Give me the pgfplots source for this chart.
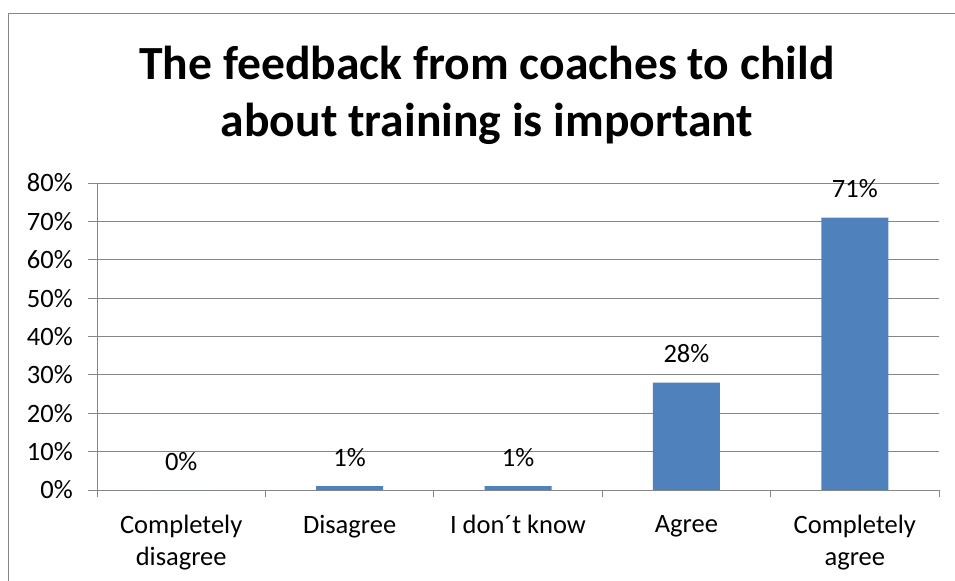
\documentclass[border=0pt]{standalone}
\usepackage{pgfplots}
\pgfplotsset{compat=1.18}
\usepackage{fontspec}
\setmainfont{Carlito}
\definecolor{barblue}{HTML}{4F81BD}
\definecolor{gridgray}{HTML}{868686}
\begin{document}
\begin{tikzpicture}[x=1bp,y=1bp]
\useasboundingbox (0,0) rectangle (955,-581);
\draw[gridgray, line width=1.3bp] (8.5,-590) -- (8.5,-13.5) -- (965,-13.5);
\node[anchor=base, inner sep=0pt, font=\fontsize{47.6bp}{57bp}\selectfont\bfseries] at (487,-80) {The feedback from coaches to child};
\node[anchor=base, inner sep=0pt, font=\fontsize{47.6bp}{57bp}\selectfont\bfseries] at (487,-137) {about training is important};
\begin{axis}[
  at={(97bp,-490bp)}, anchor=south west,
  scale only axis, width=842bp, height=307bp,
  xmin=-0.5, xmax=4.5, ymin=0, ymax=80,
  axis lines*=left,
  axis line style={gridgray, line width=1bp},
  ytick={0,10,...,80},
  yticklabels={0\%,10\%,20\%,30\%,40\%,50\%,60\%,70\%,80\%},
  ymajorgrids, grid style={gridgray, line width=1bp},
  tick align=outside, tick style={gridgray, line width=1bp},
  major tick length=9bp, minor tick length=7bp,
  xtick={0,...,4},
  minor xtick={-0.5,0.5,...,4.5},
  every major x tick/.append style={draw=none},
  xticklabels={{Completely\\disagree},{Disagree},{I don´t know},{Agree},{Completely\\agree}},
  tick label style={font=\fontsize{26.5bp}{32bp}\selectfont, text=black},
  xticklabel style={align=center, anchor=north, inner sep=0pt, yshift=-16bp},
  yticklabel style={anchor=east, inner sep=0pt, xshift=-15bp},
  ybar, bar width=67bp,
  point meta=explicit symbolic,
  nodes near coords,
  every node near coord/.append style={anchor=base, yshift=20bp, inner sep=0pt, font=\fontsize{26.5bp}{32bp}\selectfont, text=black},
]
\addplot[fill=barblue, draw=none] coordinates {(0,0) [0\%] (1,1) [1\%] (2,1) [1\%] (3,28) [28\%] (4,71) [71\%]};
\end{axis}
\end{tikzpicture}
\end{document}
